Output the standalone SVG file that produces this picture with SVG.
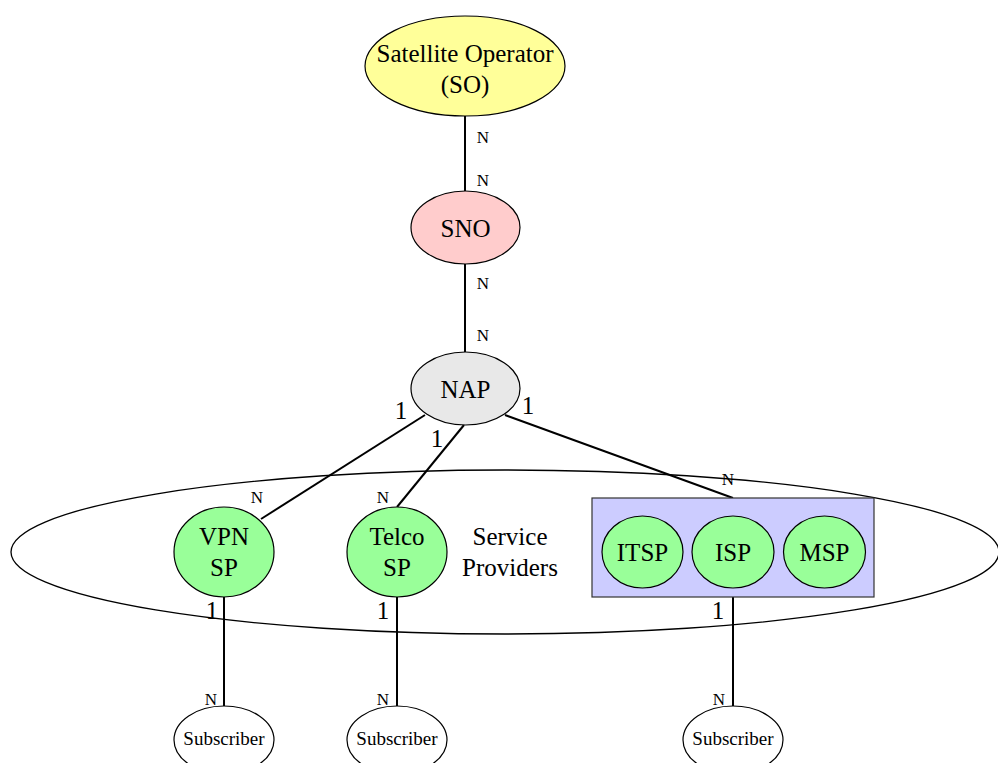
<svg xmlns="http://www.w3.org/2000/svg" width="998" height="763" viewBox="0 0 998 763">
  <style>
    text { font-family: "Liberation Serif", "Times New Roman", serif; fill: #000; text-anchor: middle; }
    .node { stroke: #000; stroke-width: 1.2; }
    .lbl { font-size: 25px; }
    .card { font-size: 17px; }
    .one { font-size: 25px; }
    .sub { font-size: 19px; }
    #connectors line { stroke: #000; stroke-width: 2; }
  </style>
  <rect width="998" height="763" fill="#fff"/>

  <!-- service provider grouping -->
  <g id="service-providers">
    <ellipse cx="505" cy="552" rx="494" ry="82" fill="none" stroke="#000" stroke-width="1.3"/>
    <text class="lbl" x="510" y="545">Service</text>
    <text class="lbl" x="510" y="576">Providers</text>
  </g>

  <!-- connectors -->
  <g id="connectors">
    <line x1="465" y1="116" x2="465" y2="191"/>
    <line x1="465" y1="264" x2="465" y2="352"/>
    <line x1="425" y1="415" x2="261" y2="519"/>
    <line x1="464" y1="425" x2="397" y2="507"/>
    <line x1="505" y1="415" x2="733" y2="498"/>
    <line x1="224" y1="597" x2="224" y2="706"/>
    <line x1="397" y1="597" x2="397" y2="706"/>
    <line x1="733" y1="597" x2="733" y2="706"/>
  </g>

  <!-- cardinality labels -->
  <g id="cardinalities">
    <text class="card" x="483" y="143">N</text>
    <text class="card" x="483" y="186">N</text>
    <text class="card" x="483" y="289">N</text>
    <text class="card" x="483" y="341">N</text>
    <text class="one" x="401" y="419">1</text>
    <text class="one" x="437" y="447">1</text>
    <text class="one" x="528" y="414">1</text>
    <text class="card" x="257" y="503">N</text>
    <text class="card" x="383" y="503">N</text>
    <text class="card" x="728" y="485">N</text>
    <text class="one" x="212" y="619">1</text>
    <text class="one" x="383" y="619">1</text>
    <text class="one" x="718" y="619">1</text>
    <text class="card" x="211" y="705">N</text>
    <text class="card" x="383" y="705">N</text>
    <text class="card" x="719" y="705">N</text>
  </g>

  <g id="so">
    <ellipse class="node" cx="465" cy="66" rx="100" ry="50" fill="#ffff99"/>
    <text class="lbl" x="465" y="62">Satellite Operator</text>
    <text class="lbl" x="465" y="93">(SO)</text>
  </g>

  <g id="sno">
    <ellipse class="node" cx="465.5" cy="227.5" rx="54.5" ry="36.5" fill="#ffcccc"/>
    <text class="lbl" x="465.5" y="237">SNO</text>
  </g>

  <g id="nap">
    <ellipse class="node" cx="465.5" cy="388.5" rx="54.5" ry="36.5" fill="#e8e8e8"/>
    <text class="lbl" x="465.5" y="398">NAP</text>
  </g>

  <g id="vpn-sp">
    <ellipse class="node" cx="224" cy="552" rx="50" ry="45" fill="#99ff99"/>
    <text class="lbl" x="224" y="545">VPN</text>
    <text class="lbl" x="224" y="576">SP</text>
  </g>

  <g id="telco-sp">
    <ellipse class="node" cx="397" cy="552" rx="50" ry="45" fill="#99ff99"/>
    <text class="lbl" x="397" y="545">Telco</text>
    <text class="lbl" x="397" y="576">SP</text>
  </g>

  <g id="provider-cluster">
    <rect x="592" y="498" width="282" height="99" fill="#ccccff" stroke="#333" stroke-width="1.2"/>
  </g>

  <g id="itsp">
    <ellipse class="node" cx="642.5" cy="552" rx="40.5" ry="36" fill="#99ff99"/>
    <text class="lbl" x="642.5" y="561">ITSP</text>
  </g>

  <g id="isp">
    <ellipse class="node" cx="733" cy="552" rx="41" ry="36" fill="#99ff99"/>
    <text class="lbl" x="733" y="561">ISP</text>
  </g>

  <g id="msp">
    <ellipse class="node" cx="824.5" cy="552" rx="41" ry="36" fill="#99ff99"/>
    <text class="lbl" x="824.5" y="561">MSP</text>
  </g>

  <g id="subscriber-1">
    <ellipse class="node" cx="224" cy="740" rx="50" ry="34" fill="#fff"/>
    <text class="sub" x="224" y="745">Subscriber</text>
  </g>

  <g id="subscriber-2">
    <ellipse class="node" cx="397" cy="740" rx="50" ry="34" fill="#fff"/>
    <text class="sub" x="397" y="745">Subscriber</text>
  </g>

  <g id="subscriber-3">
    <ellipse class="node" cx="733" cy="740" rx="50" ry="34" fill="#fff"/>
    <text class="sub" x="733" y="745">Subscriber</text>
  </g>
</svg>
